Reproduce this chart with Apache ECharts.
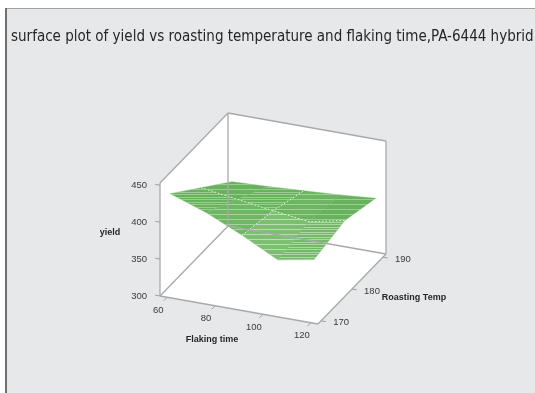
<!DOCTYPE html>
<html><head><meta charset="utf-8">
<script src="https://cdn.jsdelivr.net/npm/echarts@6/dist/echarts.min.js"></script>
<style>html,body{margin:0;padding:0;background:#fff}#c{width:535px;height:393px}</style>
</head><body><div id="c"></div>
<script>
// ---- data ----
const flakingTime = [60, 75, 90, 105, 120];
const roastingTemp = [170, 180, 190];
const yield170 = [436, 419, 397, 372, 381];
const yield180 = [401, 394, 387, 381, 391];
const yield190 = [366, 368, 371, 374, 378];
const xTicks = [60, 80, 100, 120];
const yTicks = [170, 180, 190];
const zTicks = [300, 350, 400, 450];
const xRange = [57, 123];
const yRange = [169, 191];
const zRange = [300, 453];
const titleText = 'surface plot of yield vs roasting temperature and flaking time,PA-6444 hybrid';

// ---- view (oblique projection into plane units) ----
const EX = [158, 28], EY = [68, -70], EZ = [0, -113];
function norm(x, y, z) {
  return [(x - xRange[0]) / (xRange[1] - xRange[0]),
          (y - yRange[0]) / (yRange[1] - yRange[0]),
          (z - zRange[0]) / (zRange[1] - zRange[0])];
}
function proj(x, y, z) {
  const [u, v, w] = norm(x, y, z);
  return [u * EX[0] + v * EY[0] + w * EZ[0], u * EX[1] + v * EY[1] + w * EZ[1]];
}

const yieldGrid = [yield170, yield180, yield190];

// surface cells
const cells = [];
for (let j = 0; j < roastingTemp.length - 1; j++) {
  for (let i = 0; i < flakingTime.length - 1; i++) {
    cells.push([flakingTime[i], flakingTime[i + 1], roastingTemp[j], roastingTemp[j + 1],
      yieldGrid[j][i], yieldGrid[j][i + 1], yieldGrid[j + 1][i + 1], yieldGrid[j + 1][i]]);
  }
}
cells.sort((a, b) => {
  const da = norm((a[0] + a[1]) / 2, (a[2] + a[3]) / 2, 300);
  const db = norm((b[0] + b[1]) / 2, (b[2] + b[3]) / 2, 300);
  return (da[0] - da[1]) - (db[0] - db[1]);
});

// mesh lines
const meshLines = [];
meshLines.push(roastingTemp.map((y, j) => [flakingTime[2], y, yieldGrid[j][2]]));
meshLines.push(flakingTime.map((x, i) => [x, roastingTemp[1], yield180[i]]));

// frame
const X0 = xRange[0], X1 = xRange[1], Y0 = yRange[0], Y1 = yRange[1], Z0 = zRange[0], Z1 = zRange[1];
const walls = [
  [[X0, Y0, Z0], [X1, Y0, Z0], [X1, Y1, Z0], [X0, Y1, Z0]],
  [[X0, Y0, Z0], [X0, Y1, Z0], [X0, Y1, Z1], [X0, Y0, Z1]],
  [[X0, Y1, Z0], [X1, Y1, Z0], [X1, Y1, Z1], [X0, Y1, Z1]]
];
const edges = [
  [X0, Y0, Z0, X1, Y0, Z0], [X1, Y0, Z0, X1, Y1, Z0], [X1, Y1, Z0, X0, Y1, Z0], [X0, Y1, Z0, X0, Y0, Z0],
  [X0, Y0, Z0, X0, Y0, Z1], [X0, Y1, Z0, X0, Y1, Z1], [X1, Y1, Z0, X1, Y1, Z1],
  [X0, Y0, Z1, X0, Y1, Z1], [X0, Y1, Z1, X1, Y1, Z1]
];

function mix(a, b, t) { return 'rgb(' + a.map((v, k) => Math.round(v + (b[k] - v) * t)).join(',') + ')'; }
function stripeFill(top, bottom, dark, light) {
  const p = 2.5, a = 0.65;
  const g0 = Math.floor(top / p) * p, g1 = Math.ceil(bottom / p) * p;
  const h = g1 - g0, stops = [];
  for (let y = g0; y < g1 - 0.01; y += p) {
    const o0 = (y - g0) / h, o1 = (y + p * a - g0) / h, o2 = (y + p - g0) / h;
    stops.push({offset: o0, color: dark}, {offset: o1, color: dark},
               {offset: o1, color: light}, {offset: Math.min(1, o2), color: light});
  }
  return new echarts.graphic.LinearGradient(0, g0, 0, g1, stops, true);
}

const labelFont = 'Liberation Sans, Arial, sans-serif';

const option = {
  backgroundColor: '#ffffff',
  animation: false,
  title: {
    text: titleText, left: 11, top: 30, padding: 0,
    textStyle: {fontFamily: 'DejaVu Sans Condensed', fontSize: 15, fontWeight: 'normal', color: '#262626'}
  },
  graphic: [
    {type: 'rect', z: -10, shape: {x: 6, y: 8, width: 540, height: 400}, style: {fill: '#e7e8ea'}},
    {type: 'line', z: -9, shape: {x1: 6, y1: 8.5, x2: 540, y2: 8.5}, style: {stroke: '#a3a3a3', lineWidth: 1}},
    {type: 'line', z: -9, shape: {x1: 6, y1: 8, x2: 6, y2: 400}, style: {stroke: '#707070', lineWidth: 2}}
  ],
  grid: {left: 160, top: 113, width: 226, height: 211},
  xAxis: {type: 'value', min: 0, max: 226, show: false},
  yAxis: {type: 'value', min: -183, max: 28, inverse: true, show: false},
  series: [
    { // walls
      type: 'custom', z: 1, clip: false, silent: true,
      data: walls.map((w, k) => [k]),
      renderItem(params, api) {
        const w = walls[api.value(0)];
        return {type: 'polygon', shape: {points: w.map(c => api.coord(proj(c[0], c[1], c[2])))},
          style: {fill: '#ffffff', stroke: '#ffffff', lineWidth: 0.5}};
      }
    },
    { // surface
      type: 'custom', z: 2, clip: false, silent: true,
      data: cells,
      renderItem(params, api) {
        const x0 = api.value(0), x1 = api.value(1), y0 = api.value(2), y1 = api.value(3);
        const z = [api.value(4), api.value(5), api.value(6), api.value(7)];
        const corners = [[x0, y0, z[0]], [x1, y0, z[1]], [x1, y1, z[2]], [x0, y1, z[3]]];
        const pts = corners.map(c => api.coord(proj(c[0], c[1], c[2])));
        const n = corners.map(c => norm(c[0], c[1], c[2]));
        const d1 = [n[2][0] - n[0][0], n[2][1] - n[0][1], n[2][2] - n[0][2]];
        const d2 = [n[3][0] - n[1][0], n[3][1] - n[1][1], n[3][2] - n[1][2]];
        let nx = d1[1] * d2[2] - d1[2] * d2[1], ny = d1[2] * d2[0] - d1[0] * d2[2], nz = d1[0] * d2[1] - d1[1] * d2[0];
        if (nz < 0) { nx = -nx; ny = -ny; nz = -nz; }
        const len = Math.hypot(nx, ny, nz);
        const L = [0.4, -0.8, 0.45], Ll = Math.hypot(L[0], L[1], L[2]);
        const dot = (nx * L[0] + ny * L[1] + nz * L[2]) / len / Ll;
        const t = Math.max(0, Math.min(1, (dot - 0.25) / 0.6));
        const dark = mix([104, 178, 94], [142, 202, 130], t);
        const light = mix([152, 206, 142], [214, 236, 209], t);
        const ys = pts.map(p => p[1]);
        return {type: 'polygon', shape: {points: pts},
          style: {fill: stripeFill(Math.min(...ys), Math.max(...ys), dark, light), stroke: dark, lineWidth: 0.4}};
      }
    },
    { // mesh lines
      type: 'custom', z: 3, clip: false, silent: true,
      data: meshLines.map((m, k) => [k]),
      renderItem(params, api) {
        const m = meshLines[api.value(0)];
        return {type: 'polyline', shape: {points: m.map(c => api.coord(proj(c[0], c[1], c[2])))},
          style: {stroke: 'rgba(255,255,255,0.8)', lineWidth: 1, lineDash: [1.5, 2], fill: null}};
      }
    },
    { // frame edges
      type: 'custom', z: 4, clip: false, silent: true,
      data: edges,
      renderItem(params, api) {
        const a = api.coord(proj(api.value(0), api.value(1), api.value(2)));
        const b = api.coord(proj(api.value(3), api.value(4), api.value(5)));
        return {type: 'line', shape: {x1: a[0], y1: a[1], x2: b[0], y2: b[1]},
          style: {stroke: '#a9a9ab', lineWidth: 1.3}};
      }
    },
    { // x ticks
      type: 'custom', z: 5, clip: false, silent: true,
      data: xTicks.map(t => [t]),
      renderItem(params, api) {
        const t = api.value(0);
        const a = api.coord(proj(t, Y0, Z0)), b = api.coord(proj(t, Y0 - 1.1, Z0));
        return {type: 'group', children: [
          {type: 'line', shape: {x1: a[0], y1: a[1], x2: b[0], y2: b[1]}, style: {stroke: '#a0a0a0', lineWidth: 1}},
          {type: 'text', x: a[0] - 9, y: a[1] + 13, style: {text: String(t), font: '9.5px ' + labelFont, fill: '#3a3a3a', align: 'center', verticalAlign: 'middle'}}
        ]};
      }
    },
    { // y ticks
      type: 'custom', z: 5, clip: false, silent: true,
      data: yTicks.map(t => [t]),
      renderItem(params, api) {
        const t = api.value(0);
        const a = api.coord(proj(X1, t, Z0)), b = api.coord(proj(X1 + 2, t, Z0));
        return {type: 'group', children: [
          {type: 'line', shape: {x1: a[0], y1: a[1], x2: b[0], y2: b[1]}, style: {stroke: '#a0a0a0', lineWidth: 1}},
          {type: 'text', x: a[0] + 20, y: a[1] + 2, style: {text: String(t), font: '9.5px ' + labelFont, fill: '#3a3a3a', align: 'center', verticalAlign: 'middle'}}
        ]};
      }
    },
    { // z ticks
      type: 'custom', z: 5, clip: false, silent: true,
      data: zTicks.map(t => [t]),
      renderItem(params, api) {
        const t = api.value(0);
        const a = api.coord(proj(X0, Y0, t)), b = api.coord(proj(X0 - 2, Y0, t));
        return {type: 'group', children: [
          {type: 'line', shape: {x1: a[0], y1: a[1], x2: b[0], y2: b[1]}, style: {stroke: '#a0a0a0', lineWidth: 1}},
          {type: 'text', x: a[0] - 13, y: a[1], style: {text: String(t), font: '9.5px ' + labelFont, fill: '#3a3a3a', align: 'right', verticalAlign: 'middle'}}
        ]};
      }
    },
    { // axis names
      type: 'custom', z: 5, clip: false, silent: true,
      data: [[0], [1], [2]],
      renderItem(params, api) {
        const k = api.value(0);
        const defs = [
          {p: proj((X0 + X1) / 2, Y0, Z0), dx: -27, dy: 30, text: 'Flaking time'},
          {p: proj(X1, (Y0 + Y1) / 2, Z0), dx: 62, dy: 9, text: 'Roasting Temp'},
          {p: proj(X0, Y0, (Z0 + Z1) / 2), dx: -50, dy: -7, text: 'yield'}
        ];
        const d = defs[k], a = api.coord(d.p);
        return {type: 'text', x: a[0] + d.dx, y: a[1] + d.dy,
          style: {text: d.text, font: 'bold 9px ' + labelFont, fill: '#262626', align: 'center', verticalAlign: 'middle'}};
      }
    }
  ]
};
const chart = echarts.init(document.getElementById('c'));
chart.setOption(option);
</script>
</body></html>
